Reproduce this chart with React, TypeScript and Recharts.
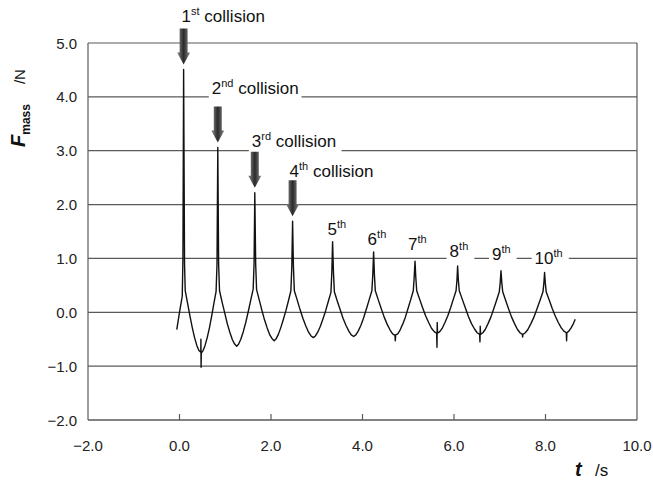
import { LineChart, Line, XAxis, YAxis, CartesianGrid, ReferenceLine, ReferenceDot } from 'recharts';

// measured force signal (t in s, F in N), one row per half swing
const timeS = [
  -0.06, 0.0, 0.06, 0.075, 0.09, 0.11, 0.125,
  0.176, 0.227, 0.278, 0.329, 0.38, 0.424, 0.465, 0.468, 0.472, 0.476,
  0.515, 0.557, 0.606, 0.654, 0.703, 0.751, 0.8, 0.82, 0.837, 0.855, 0.875,
  0.931, 0.988, 1.044, 1.1, 1.156, 1.205, 1.25,
  1.293, 1.34, 1.394, 1.448, 1.502, 1.556, 1.61, 1.63, 1.646, 1.665, 1.685,
  1.743, 1.8, 1.858, 1.916, 1.974, 2.024, 2.07,
  2.114, 2.161, 2.216, 2.271, 2.326, 2.38, 2.435, 2.455, 2.472, 2.49, 2.51,
  2.572, 2.635, 2.697, 2.759, 2.821, 2.875, 2.925,
  2.971, 3.021, 3.079, 3.137, 3.195, 3.252, 3.31, 3.33, 3.346, 3.365, 3.385,
  3.448, 3.511, 3.574, 3.638, 3.701, 3.755, 3.806,
  3.854, 3.906, 3.966, 4.025, 4.085, 4.145, 4.205, 4.225, 4.243, 4.26, 4.28,
  4.345, 4.409, 4.474, 4.538, 4.603, 4.658, 4.71, 4.717, 4.725,
  4.771, 4.821, 4.879, 4.937, 4.995, 5.052, 5.11, 5.13, 5.148, 5.165, 5.185,
  5.25, 5.316, 5.381, 5.446, 5.511, 5.568, 5.62, 5.628, 5.633, 5.64,
  5.689, 5.741, 5.802, 5.863, 5.924, 5.984, 6.045, 6.065, 6.079, 6.095, 6.115,
  6.182, 6.249, 6.315, 6.382, 6.449, 6.507, 6.56, 6.568, 6.573, 6.58,
  6.629, 6.683, 6.744, 6.806, 6.867, 6.929, 6.99, 7.01, 7.027, 7.045, 7.065,
  7.13, 7.194, 7.259, 7.323, 7.388, 7.443, 7.495, 7.5, 7.505,
  7.558, 7.615, 7.681, 7.747, 7.813, 7.879, 7.945, 7.965, 7.98, 7.995, 8.015,
  8.081, 8.147, 8.213, 8.279, 8.345, 8.402, 8.455, 8.461, 8.467,
  8.51, 8.56, 8.61, 8.65,
];
const forceN = [
  -0.32, 0.0, 0.3, 1.0, 4.51, 0.9, 0.4,
  0.17, -0.06, -0.28, -0.47, -0.62, -0.71, -0.74, -0.5, -1.02, -0.76,
  -0.71, -0.62, -0.47, -0.29, -0.07, 0.16, 0.39, 0.9, 3.06, 0.9, 0.4,
  0.19, -0.01, -0.21, -0.37, -0.51, -0.59, -0.63,
  -0.59, -0.5, -0.36, -0.19, 0.01, 0.22, 0.43, 0.9, 2.22, 0.9, 0.42,
  0.23, 0.04, -0.14, -0.29, -0.42, -0.49, -0.53,
  -0.49, -0.41, -0.28, -0.13, 0.03, 0.21, 0.4, 0.85, 1.69, 0.85, 0.4,
  0.23, 0.05, -0.11, -0.25, -0.37, -0.44, -0.47,
  -0.44, -0.37, -0.26, -0.12, 0.03, 0.2, 0.37, 0.75, 1.32, 0.75, 0.38,
  0.21, 0.05, -0.11, -0.24, -0.35, -0.42, -0.45,
  -0.42, -0.35, -0.24, -0.1, 0.06, 0.23, 0.4, 0.7, 1.12, 0.7, 0.4,
  0.23, 0.07, -0.09, -0.22, -0.33, -0.4, -0.43, -0.53, -0.42,
  -0.4, -0.33, -0.22, -0.09, 0.07, 0.23, 0.4, 0.65, 0.95, 0.65, 0.4,
  0.24, 0.08, -0.07, -0.19, -0.3, -0.36, -0.39, -0.65, -0.19, -0.39,
  -0.36, -0.3, -0.19, -0.07, 0.08, 0.24, 0.4, 0.6, 0.86, 0.6, 0.4,
  0.24, 0.08, -0.08, -0.21, -0.31, -0.38, -0.41, -0.55, -0.26, -0.41,
  -0.38, -0.32, -0.21, -0.09, 0.06, 0.22, 0.38, 0.55, 0.77, 0.55, 0.38,
  0.22, 0.06, -0.09, -0.21, -0.32, -0.38, -0.41, -0.46, -0.41,
  -0.38, -0.32, -0.21, -0.09, 0.06, 0.22, 0.38, 0.55, 0.74, 0.55, 0.38,
  0.23, 0.07, -0.07, -0.19, -0.29, -0.35, -0.38, -0.53, -0.38,
  -0.35, -0.29, -0.21, -0.13,
];

const xTicks = [-2, 0, 2, 4, 6, 8, 10];
const yTicks = [-2, -1, 0, 1, 2, 3, 4, 5];

// collision peaks and their labels
const peakT = [0.09, 0.837, 1.646, 2.472, 3.346, 4.243, 5.148, 6.079, 7.027, 7.98];
const labelNum = ['1', '2', '3', '4', '5', '6', '7', '8', '9', '10'];
const labelSup = ['st', 'nd', 'rd', 'th', 'th', 'th', 'th', 'th', 'th', 'th'];
const labelRest = [' collision', ' collision', ' collision', ' collision', '', '', '', '', '', ''];

// pixel offsets of each label from its peak (start x, baseline y)
const labelOffset = [
  [-2, -47], [-6, -53], [-3, -46], [-3, -44], [-5, -6],
  [-6, -7], [-7, -11], [-8, -9], [-9, -11], [-10, -8],
];

const data = timeS.map((t, i) => ({ t, f: forceN[i] }));

const FONT = '"Liberation Sans", Arial, Helvetica, sans-serif';
const GRID = '#5a5a5a';

const fmt = (v: number) => (v < 0 ? '\u2212' + Math.abs(v).toFixed(1) : v.toFixed(1));

const XTick = (props: any) => {
  const { x, y, payload } = props;
  const v = payload.value;
  return (
    <g>
      {v > -2 && v < 10 && <line x1={x} y1={y} x2={x} y2={y - 6} stroke={GRID} strokeWidth={1.2} />}
      <text x={x} y={y + 31} textAnchor="middle" fontSize={15} fill="#222" fontFamily={FONT}>
        {fmt(v)}
      </text>
    </g>
  );
};

const YTick = (props: any) => {
  const { x, y, payload } = props;
  return (
    <text x={x - 11} y={y + 5.5} textAnchor="end" fontSize={15} fill="#222" fontFamily={FONT}>
      {fmt(payload.value)}
    </text>
  );
};

const Annotation = ({ cx, cy, i }: { cx: number; cy: number; i: number }) => {
  const [ox, oy] = labelOffset[i];
  const big = labelRest[i] !== '';
  const tx = cx + ox;
  const ty = cy + oy;
  const w = labelNum[i].length * 9.5 + labelSup[i].length * 5.6 + (big ? 65 : 0);
  const tip = cy - 5;
  return (
    <g>
      <rect x={tx - 3} y={ty - 16} width={w + 7} height={22} fill="#fff" />
      <text x={tx} y={ty} fontSize={17} fill="#111" fontFamily={FONT}>
        <tspan>{labelNum[i]}</tspan>
        <tspan fontSize={11} dy={-7}>{labelSup[i]}</tspan>
        <tspan dy={7}>{labelRest[i]}</tspan>
      </text>
      {big && (
        <path
          d={`M${cx - 4},${tip - 36} L${cx + 4},${tip - 36} L${cx + 4},${tip - 12} L${cx + 6.5},${tip - 12} L${cx},${tip} L${cx - 6.5},${tip - 12} L${cx - 4},${tip - 12} Z`}
          fill="url(#arrowGrad)"
        />
      )}
    </g>
  );
};

export default function App() {
  return (
    <div style={{ position: 'absolute', left: 0, top: 0, background: '#fff' }}>
      <LineChart width={653} height={480} data={data} margin={{ top: 43, right: 16, bottom: 30, left: 0 }}>
        <defs>
          <linearGradient id="arrowGrad" x1="0" y1="0" x2="1" y2="0">
            <stop offset="0%" stopColor="#8a8a8a" />
            <stop offset="50%" stopColor="#2a2a2a" />
            <stop offset="100%" stopColor="#8a8a8a" />
          </linearGradient>
        </defs>
        <CartesianGrid vertical={false} stroke={GRID} strokeWidth={1.2} />
        <XAxis
          type="number"
          dataKey="t"
          domain={[-2, 10]}
          ticks={xTicks}
          interval={0}
          height={30}
          tickSize={0}
          tickMargin={0}
          tickLine={false}
          axisLine={{ stroke: GRID, strokeWidth: 1.2 }}
          tick={<XTick />}
        />
        <YAxis
          type="number"
          domain={[-2, 5]}
          ticks={yTicks}
          interval={0}
          width={88}
          tickSize={0}
          tickMargin={0}
          tickLine={false}
          axisLine={{ stroke: GRID, strokeWidth: 1.2 }}
          tick={<YTick />}
        />
        <ReferenceLine x={10} stroke={GRID} strokeWidth={1.2} />
        <Line
          type="linear"
          dataKey="f"
          stroke="#111"
          strokeWidth={1.4}
          strokeLinejoin="round"
          dot={false}
          isAnimationActive={false}
        />
        {peakT.map((t, i) => (
          <ReferenceDot
            key={i}
            x={t}
            y={data.find((d) => d.t === t)!.f}
            r={0}
            ifOverflow="visible"
            shape={(p: any) => <Annotation cx={p.cx} cy={p.cy} i={i} />}
          />
        ))}
        <text transform="translate(25,147) rotate(-90)" fontFamily={FONT} fill="#111">
          <tspan fontSize={20} fontWeight="bold" fontStyle="italic">F</tspan>
          <tspan fontSize={12} fontWeight="bold" dy={5}>mass</tspan>
          <tspan fontSize={15} dx={20} dy={-5}>/N</tspan>
        </text>
        <text x={575} y={476} fontFamily={FONT} fill="#111">
          <tspan fontSize={20} fontWeight="bold" fontStyle="italic">t</tspan>
          <tspan fontSize={17} x={595}>/s</tspan>
        </text>
      </LineChart>
    </div>
  );
}
